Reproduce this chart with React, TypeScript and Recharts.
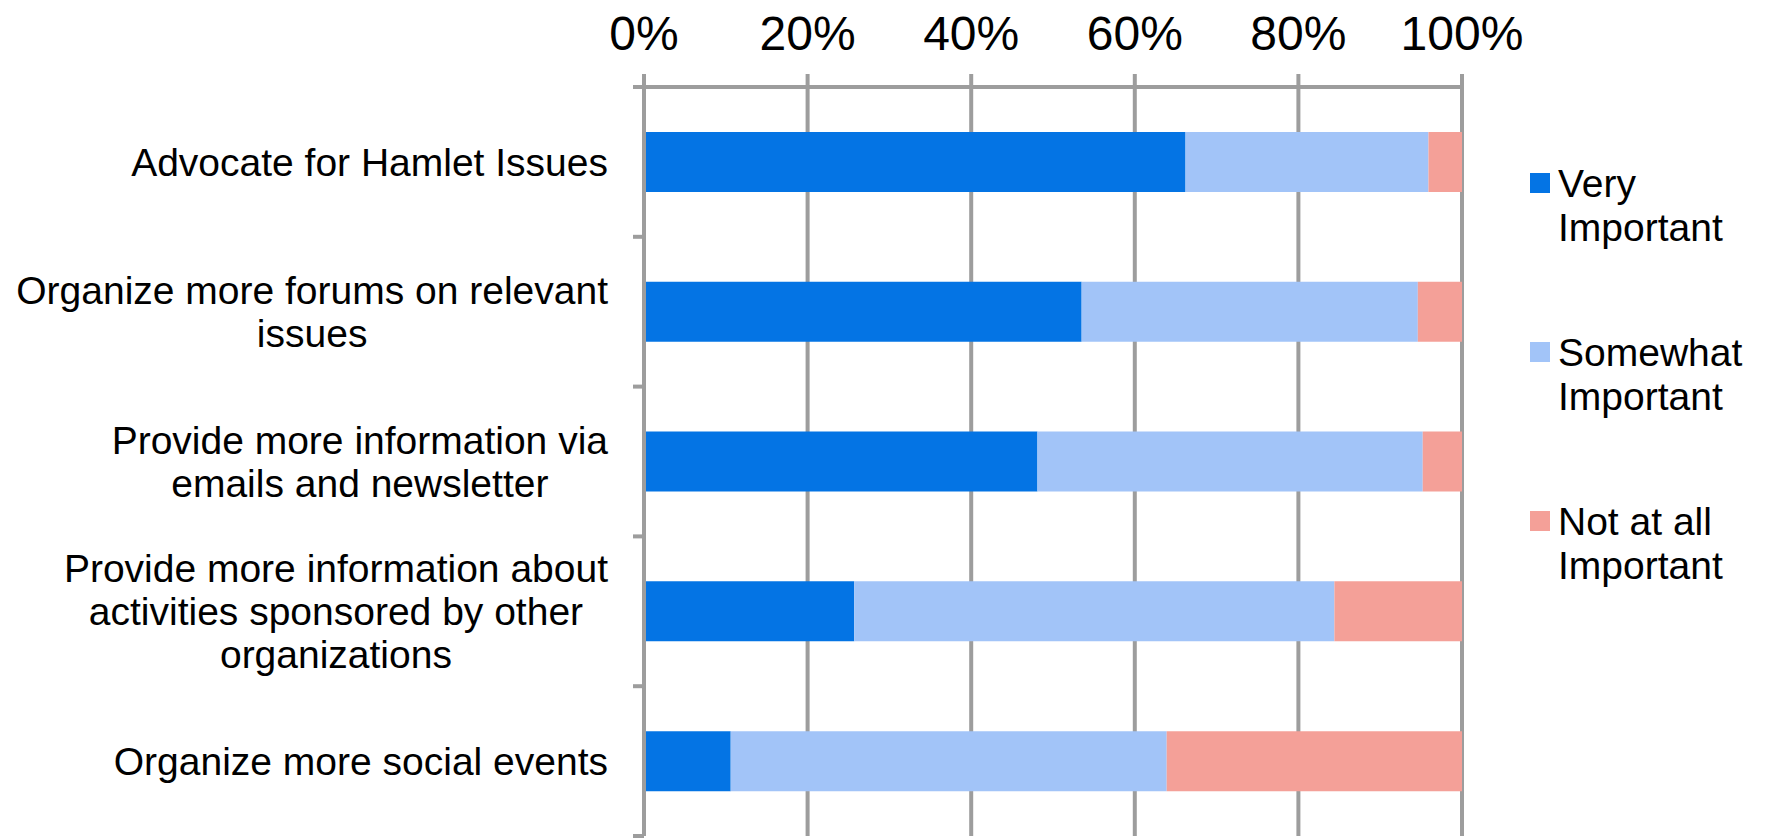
import React from 'react';
import { BarChart, Bar, XAxis, YAxis, CartesianGrid, Legend } from 'recharts';

const categories = [
  'Advocate for Hamlet Issues',
  'Organize more forums on relevant\nissues',
  'Provide more information via\nemails and newsletter',
  'Provide more information about\nactivities sponsored by other\norganizations',
  'Organize more social events',
];
const veryImportant = [66.2, 53.5, 48.1, 25.7, 10.6];
const somewhatImportant = [29.7, 41.1, 47.1, 58.7, 53.3];
const notAtAllImportant = [4.1, 5.4, 4.8, 15.6, 36.1];
const xTicks = [0, 20, 40, 60, 80, 100];
const seriesNames = ['Very Important', 'Somewhat Important', 'Not at all Important'];
const seriesKeys = ['very', 'somewhat', 'notAtAll'];
const seriesColors = ['#0474E4', '#A2C4F8', '#F4A098'];
const legendLines = [['Very', 'Important'], ['Somewhat', 'Important'], ['Not at all', 'Important']];

const data = categories.map((c, i) => ({
  name: c,
  very: veryImportant[i],
  somewhat: somewhatImportant[i],
  notAtAll: notAtAllImportant[i],
}));

const FONT = "'Liberation Sans', Arial, sans-serif";
const GRID = '#9D9D9D';
const LABEL_SIZE = 39;
const LINE_H = 43;
const TICK_MARGIN = 36;
const TICK_LEN = 11;
const LEGEND_W = 235;

let ctx: CanvasRenderingContext2D | null = null;
function measure(t: string): number {
  if (!ctx) {
    const c = document.createElement('canvas');
    ctx = c.getContext('2d');
  }
  if (!ctx) return t.length * LABEL_SIZE * 0.5;
  ctx.font = `${LABEL_SIZE}px 'Liberation Sans', Arial, sans-serif`;
  return ctx.measureText(t).width;
}

const YTick = (props: any) => {
  const { x, y, payload, index, visibleTicksCount } = props;
  const lines: string[] = String(payload.value).split('\n');
  const maxW = Math.max(...lines.map(measure));
  const cx = x - maxW / 2;
  const startY = y - ((lines.length - 1) * LINE_H) / 2;
  const axisX = x + TICK_MARGIN;
  const off = payload.offset ?? 75;
  const isLast = index === (visibleTicksCount ?? categories.length) - 1;
  return (
    <g>
      <line x1={axisX - TICK_LEN} x2={axisX} y1={y - off} y2={y - off} stroke={GRID} strokeWidth={4} />
      {isLast && (
        <line x1={axisX - TICK_LEN} x2={axisX} y1={y + off} y2={y + off} stroke={GRID} strokeWidth={4} />
      )}
      <text
        textAnchor="middle"
        fontFamily={FONT}
        fontSize={LABEL_SIZE}
        fill="#000"
        dominantBaseline="central"
      >
        {lines.map((l, i) => (
          <tspan key={i} x={cx} y={startY + i * LINE_H}>
            {l}
          </tspan>
        ))}
      </text>
    </g>
  );
};

const renderLegend = () => (
  <div style={{ fontFamily: FONT, fontSize: 39, lineHeight: '44px', color: '#000', width: LEGEND_W }}>
    {seriesNames.map((n, i) => (
      <div key={n} style={{ display: 'flex', height: 169 }}>
        <div style={{ width: 20, height: 20, background: seriesColors[i], marginTop: 11, marginRight: 8, flexShrink: 0 }} />
        <div>
          {legendLines[i].map((l) => (
            <div key={l}>{l}</div>
          ))}
        </div>
      </div>
    ))}
  </div>
);

export default function App() {
  return (
    <div style={{ position: 'absolute', left: 0, top: 0, width: 1765, height: 838, background: '#fff' }}>
      <BarChart
        width={1765}
        height={838}
        data={data}
        layout="vertical"
        margin={{ top: 0, right: 303 - LEGEND_W, bottom: 2, left: 0 }}
        barCategoryGap="30%"
      >
        <CartesianGrid horizontal={false} vertical={true} stroke={GRID} strokeWidth={4} />
        <XAxis
          type="number"
          orientation="top"
          domain={[0, 100]}
          ticks={xTicks}
          tickFormatter={(v: number) => `${v}%`}
          height={87}
          tickSize={13}
          tickMargin={24}
          axisLine={{ stroke: GRID, strokeWidth: 4 }}
          tickLine={{ stroke: GRID, strokeWidth: 4 }}
          tick={{ fontSize: 48, fill: '#000', fontFamily: FONT }}
          interval={0}
        />
        <YAxis
          type="category"
          dataKey="name"
          width={644}
          tickSize={0}
          tickMargin={TICK_MARGIN}
          tickLine={false}
          axisLine={{ stroke: GRID, strokeWidth: 4 }}
          tick={<YTick />}
          interval={0}
        />
        <Legend
          layout="vertical"
          verticalAlign="top"
          align="right"
          content={renderLegend}
          wrapperStyle={{ left: 1530, top: 162, width: LEGEND_W }}
        />
        {seriesKeys.map((k, i) => (
          <Bar key={k} dataKey={k} name={seriesNames[i]} stackId="a" fill={seriesColors[i]} isAnimationActive={false} />
        ))}
      </BarChart>
    </div>
  );
}
